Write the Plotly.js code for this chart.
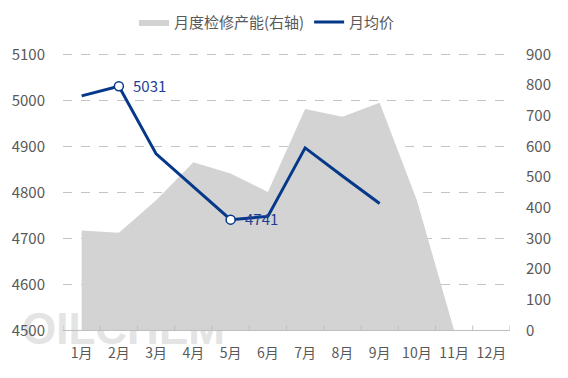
<!DOCTYPE html>
<html>
<head>
<meta charset="utf-8">
<script src="https://cdn.plot.ly/plotly-3.0.1.min.js"></script>
<style>
  html, body { margin: 0; padding: 0; background: #fff; }
  #wrap { position: relative; width: 568px; height: 378px; }
  #wm { position: absolute; left: 22px; top: 316px; font-family: "Liberation Sans", Arial, sans-serif;
        font-weight: bold; font-size: 44px; color: #e4e4e4; line-height: 26px; height: 26px; letter-spacing: 0px; }
  #chart { position: absolute; left: 0; top: 0; width: 568px; height: 378px; }
</style>
</head>
<body>
<div id="wrap">
  <div id="wm">OILCHEM</div>
  <div id="chart"></div>
</div>
<script>
const months = ['1月','2月','3月','4月','5月','6月','7月','8月','9月','10月','11月','12月'];
const capacity = [326, 319, 425, 549, 512, 452, 722, 697, 743, 425, 0, 0];
const priceMonths = ['1月','2月','3月','4月','5月','6月','7月','8月','9月'];
const price = [5010, 5031, 4884, 4812, 4741, 4748, 4897, 4836, 4776];
const markMonths = ['2月','5月'];
const markValues = [5031, 4741];
const leftTicks = [4500, 4600, 4700, 4800, 4900, 5000, 5100];
const rightTicks = [0, 100, 200, 300, 400, 500, 600, 700, 800, 900];

const fontFam = '"Noto Sans CJK SC", "Noto Sans", sans-serif';
const blue = '#053888';
const axisGrey = '#bfbfbf';

const traces = [
  {
    x: months, y: capacity, yaxis: 'y', type: 'scatter', mode: 'lines',
    name: '月度检修产能(右轴)', fill: 'tozeroy', fillcolor: '#d3d3d3',
    line: {width: 0, color: '#d3d3d3'}, hoverinfo: 'skip'
  },
  {
    x: priceMonths, y: price, yaxis: 'y2', type: 'scatter', mode: 'lines', name: '月均价',
    line: {color: blue, width: 3}
  },
  {
    x: markMonths, y: markValues, yaxis: 'y2', type: 'scatter', mode: 'markers', showlegend: false,
    marker: {color: '#ffffff', size: 9, line: {color: blue, width: 1.5}}
  }
];

const annotations = markMonths.map((m, i) => ({
  x: m, y: markValues[i], xref: 'x', yref: 'y2', text: String(markValues[i]),
  showarrow: false, xanchor: 'left', yanchor: 'middle', xshift: 12, yshift: 1,
  font: {family: fontFam, size: 15, color: '#1d3f97'}
}));

// bottom axis line at 4500 and small upward ticks on category boundaries
const baseVal = leftTicks[0];
const shapes = [
  {type: 'line', xref: 'paper', yref: 'y2', x0: 0, x1: 1, y0: baseVal, y1: baseVal,
   line: {color: axisGrey, width: 1}, layer: 'above'}
];
for (let i = 0; i <= months.length; i++) {
  shapes.push({
    type: 'line', xref: 'x', yref: 'y2', x0: i - 0.5, x1: i - 0.5,
    ysizemode: 'pixel', yanchor: baseVal, y0: 0, y1: 5,
    line: {color: axisGrey, width: 1}, layer: 'above'
  });
}

const layout = {
  width: 568, height: 378,
  margin: {l: 63, r: 58, t: 53, b: 46},
  paper_bgcolor: 'rgba(0,0,0,0)', plot_bgcolor: 'rgba(0,0,0,0)',
  font: {family: fontFam, size: 14, color: '#595959'},
  showlegend: true,
  legend: {orientation: 'h', x: 0.47, xanchor: 'center', xref: 'container',
           y: 0.985, yanchor: 'top', yref: 'container',
           font: {family: fontFam, size: 15, color: '#595959'},
           traceorder: 'normal', itemwidth: 30},
  xaxis: {
    type: 'category', range: [-0.5, 11.5], showgrid: false,
    showline: false, zeroline: false,
    ticks: '', tickangle: 0, ticklabelstandoff: 11,
    tickfont: {family: fontFam, size: 14, color: '#595959'}
  },
  yaxis: {
    range: [-5, 905], tickvals: rightTicks, side: 'right', showgrid: false,
    zeroline: false, showline: false,
    tickfont: {family: fontFam, size: 15, color: '#595959'}, ticklabelstandoff: 15
  },
  yaxis2: {
    range: [4496.67, 5103.33], tickvals: leftTicks, overlaying: 'y', side: 'left',
    showgrid: true, gridcolor: '#c4c4c4', griddash: 'dash', gridwidth: 1,
    zeroline: false, showline: false,
    tickfont: {family: fontFam, size: 15, color: '#595959'}, ticklabelstandoff: 17
  },
  annotations: annotations,
  shapes: shapes
};

Plotly.newPlot('chart', traces, layout, {displayModeBar: false, staticPlot: true});
</script>
</body>
</html>
